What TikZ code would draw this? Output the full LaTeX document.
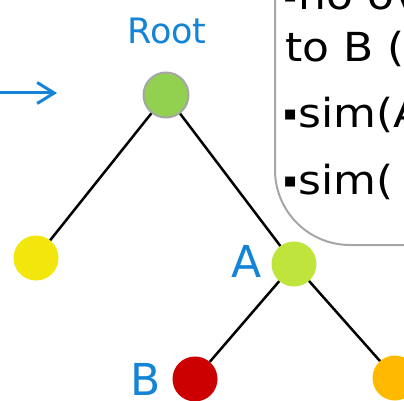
\documentclass[tikz,border=0pt]{standalone}
\usepackage{fontspec}
\setmainfont{DejaVu Sans}
\newfontfamily\bulletfont{Liberation Sans}
\newfontfamily\notefont[FakeStretch=1.1]{DejaVu Sans}
\usetikzlibrary{arrows.meta}
\definecolor{labblue}{RGB}{20,132,214}
\definecolor{rootgreen}{RGB}{146,208,80}
\definecolor{leafyellow}{RGB}{242,230,12}
\definecolor{alime}{RGB}{191,228,60}
\definecolor{bred}{RGB}{204,0,0}
\definecolor{leaforange}{RGB}{255,186,0}
\definecolor{boxgray}{RGB}{166,166,166}
\newcommand{\sqbul}{{\bulletfont ▪}\kern1pt}
\tikzset{
  vertex/.style={circle, minimum size=45pt, inner sep=0pt},
  branch/.style={black, line width=2.5pt},
  lab/.style={text=labblue, inner sep=0pt},
  note/.style={font=\notefont\fontsize{40}{44}\selectfont, inner sep=0pt, anchor=base west},
  pointer/.style={labblue, line width=3pt, -{Straight Barb[length=17pt,width=21pt]}},
}

\begin{document}
\begin{tikzpicture}[x=1pt,y=-1pt]
  \useasboundingbox (0,0) rectangle (404,401);
  \clip (0,0) rectangle (404,401);

  % comment box (cut by the frame)
  \draw[boxgray, line width=2pt, fill=white, rounded corners=75pt]
    (275,-90) rectangle (480,245);
  \node[note] (line1) at (283,10) {\sqbul no ov};
  \node[note] (line2) at (285,62) {to B (};
  \node[note] (line3) at (283,128) {\sqbul sim(A};
  \node[note] (line4) at (283,194) {\sqbul sim(};

  % arrow from the left
  \coordinate (ptrstart) at (-5,93);
  \coordinate (ptrend) at (57,93);
  \draw[pointer] (ptrstart) -- (ptrend);

  % tree
  \node[vertex, fill=rootgreen, draw=boxgray, line width=2pt] (root) at (166,95) {};
  \node[vertex, fill=leafyellow] (leafL) at (36,258) {};
  \node[vertex, fill=alime] (nodeA) at (294,264) {};
  \node[vertex, fill=bred] (nodeB) at (195,379) {};
  \node[vertex, fill=leaforange] (leafR) at (395,378) {};

  \draw[branch] (root) -- (leafL);
  \draw[branch] (root) -- (nodeA);
  \draw[branch] (nodeA) -- (nodeB);
  \draw[branch] (nodeA) -- (leafR);

  \node[lab, anchor=base, font=\fontsize{35}{40}\selectfont] (rootlab) at (167,44) {Root};
  \node[lab, anchor=base, font=\fontsize{44}{48}\selectfont] (alab) at (247,277) {A};
  \node[lab, anchor=base, font=\fontsize{44}{48}\selectfont] (blab) at (146,395) {B};
\end{tikzpicture}
\end{document}
